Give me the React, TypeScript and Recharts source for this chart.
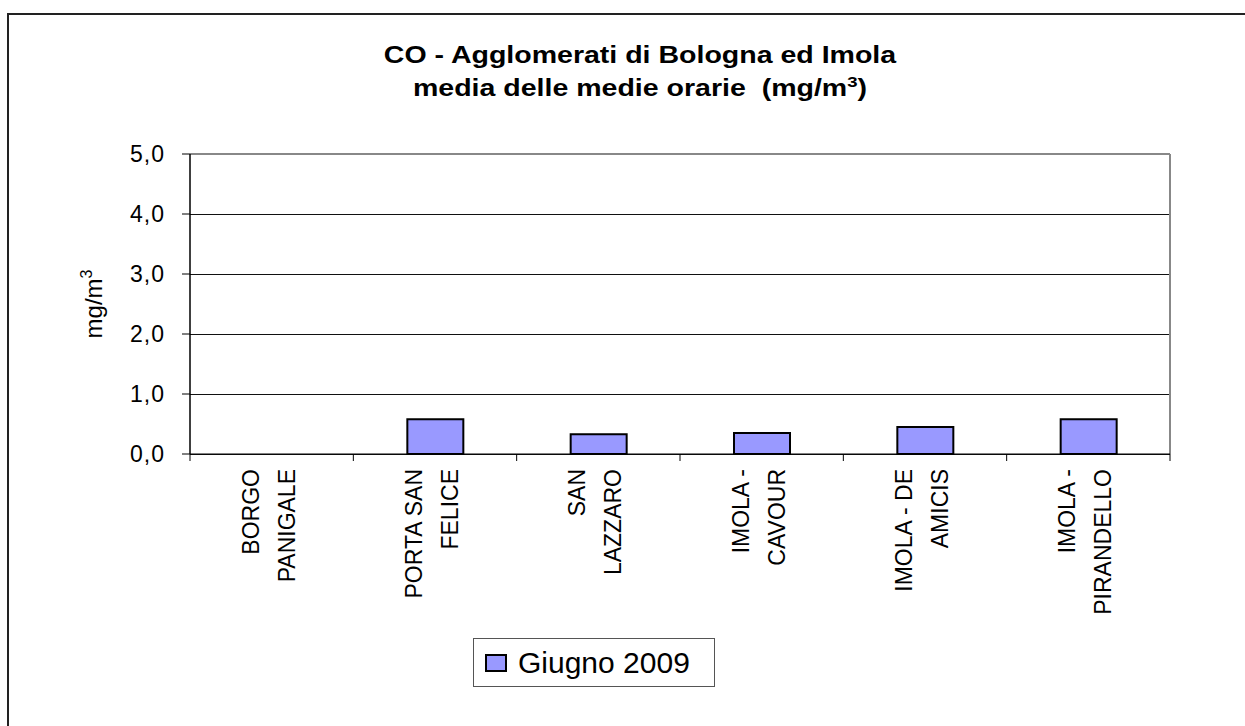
import React from 'react';
import { BarChart, Bar, XAxis, YAxis, CartesianGrid, Legend, ReferenceLine } from 'recharts';

const stations = [
    'BORGO PANIGALE',
    'PORTA SAN FELICE',
    'SAN LAZZARO',
    'IMOLA - CAVOUR',
    'IMOLA - DE AMICIS',
    'IMOLA - PIRANDELLO',
];
const stationLines = [
    ['BORGO', 'PANIGALE'],
    ['PORTA SAN', 'FELICE'],
    ['SAN', 'LAZZARO'],
    ['IMOLA -', 'CAVOUR'],
    ['IMOLA - DE', 'AMICIS'],
    ['IMOLA -', 'PIRANDELLO'],
];
const giugno2009 = [0, 0.58, 0.33, 0.35, 0.45, 0.58];
const yTicks = [0, 1, 2, 3, 4, 5];
const yMax = 5;
const seriesName = 'Giugno 2009';

const data = stations.map((station, i) => ({ station, value: giugno2009[i] }));

const FONT = '"Liberation Sans", Arial, sans-serif';
const BAND = (1170 - 190) / stations.length;

function StationTick(props: any) {
    const { x, y, payload } = props;
    const idx = stations.indexOf(payload.value);
    const lines = stationLines[idx] || [payload.value];
    const isLast = idx === stations.length - 1;
    return (
        <g>
            <line x1={x - BAND / 2} y1={y} x2={x - BAND / 2} y2={y + 7} stroke="#000" strokeWidth={1} />
            {isLast && <line x1={x + BAND / 2} y1={y} x2={x + BAND / 2} y2={y + 7} stroke="#000" strokeWidth={1} />}
            <text
                transform={`translate(${x},${y + 15}) rotate(-90)`}
                textAnchor="end"
                fontSize={23}
                fontFamily={FONT}
                fill="#000"
            >
                <tspan x={0} y={-13}>{lines[0]}</tspan>
                {lines[1] && <tspan x={0} y={23}>{lines[1]}</tspan>}
            </text>
        </g>
    );
}

// skip the top grid line, the gray plot border sits there
function GridLine(p: any) {
    if (Math.abs(p.y1 - p.y) < 1) return <g />;
    return <line x1={p.x1} y1={p.y1} x2={p.x2} y2={p.y2} stroke="#111" strokeWidth={1} shapeRendering="crispEdges" />;
}

function UnitLabel(props: any) {
    const { viewBox } = props;
    const cy = viewBox.y + viewBox.height / 2;
    return (
        <text
            transform={`translate(102,${cy}) rotate(-90)`}
            textAnchor="middle"
            fontSize={24}
            fontFamily={FONT}
            fill="#000"
        >
            mg/m<tspan fontSize={16} dy={-10}>3</tspan>
        </text>
    );
}

function LegendBox() {
    return (
        <div
            style={{
                boxSizing: 'border-box',
                width: 242,
                height: 49,
                border: '1px solid #555',
                background: '#fff',
                display: 'flex',
                alignItems: 'center',
                fontFamily: FONT,
                fontSize: 30,
                color: '#000',
            }}
        >
            <span
                style={{
                    display: 'inline-block',
                    boxSizing: 'border-box',
                    width: 22,
                    height: 18,
                    marginLeft: 11,
                    marginRight: 11,
                    background: '#9999FF',
                    border: '2px solid #000',
                }}
            />
            <span>{seriesName}</span>
        </div>
    );
}

export default function App() {
    return (
        <div
            style={{
                position: 'absolute',
                left: 0,
                top: 0,
                width: 1245,
                height: 726,
                overflow: 'hidden',
                background: '#fff',
                fontFamily: FONT,
            }}
        >
            {/* outer frame, cut off at right and bottom */}
            <div
                style={{
                    position: 'absolute',
                    left: 7,
                    top: 13,
                    width: 1300,
                    height: 800,
                    border: '2px solid #222',
                }}
            />
            <div
                style={{
                    position: 'absolute',
                    left: 240,
                    top: 39,
                    width: 800,
                    textAlign: 'center',
                    fontWeight: 'bold',
                    fontSize: 23,
                    lineHeight: '33px',
                    color: '#000',
                    transform: 'scaleX(1.24)',
                    transformOrigin: '400px 0',
                }}
            >
                <div>CO - Agglomerati di Bologna ed Imola</div>
                <div>
                    media delle medie orarie&nbsp;&nbsp;(mg/m
                    <sup style={{ fontSize: 15, lineHeight: 0 }}>3</sup>)
                </div>
            </div>
            <div style={{ position: 'absolute', left: 0, top: 0 }}>
                <BarChart
                    width={1245}
                    height={726}
                    data={data}
                    margin={{ top: 154, right: 75, bottom: 73, left: 90 }}
                    barSize={56}
                >
                    <CartesianGrid vertical={false} horizontal={(p: any) => <GridLine {...p} />} />
                    <XAxis
                        dataKey="station"
                        interval={0}
                        height={150}
                        tickLine={false}
                        tickSize={0}
                        tickMargin={0}
                        axisLine={{ stroke: '#000', strokeWidth: 1 }}
                        tick={<StationTick />}
                    />
                    <YAxis
                        width={100}
                        domain={[0, yMax]}
                        ticks={yTicks}
                        interval={0}
                        tickSize={8}
                        tickMargin={17}
                        tickLine={{ stroke: '#000' }}
                        axisLine={{ stroke: '#000', strokeWidth: 1.5 }}
                        tick={{ fill: '#000', fontSize: 23, fontFamily: FONT, letterSpacing: 1 }}
                        tickFormatter={(v: number) => v.toFixed(1).replace('.', ',')}
                        label={{ content: <UnitLabel /> }}
                    />
                    {/* gray plot border at top and right */}
                    <ReferenceLine y={yMax} stroke="#888" strokeWidth={2} ifOverflow="visible" />
                    <ReferenceLine
                        x={stations[stations.length - 1]}
                        position="end"
                        stroke="#888"
                        strokeWidth={2}
                        ifOverflow="visible"
                    />
                    <Legend
                        content={<LegendBox />}
                        wrapperStyle={{ position: 'absolute', left: 473, top: 638, width: 242, height: 49 }}
                    />
                    <Bar
                        dataKey="value"
                        name={seriesName}
                        fill="#9999FF"
                        stroke="#000"
                        strokeWidth={2}
                        isAnimationActive={false}
                    />
                </BarChart>
            </div>
        </div>
    );
}
